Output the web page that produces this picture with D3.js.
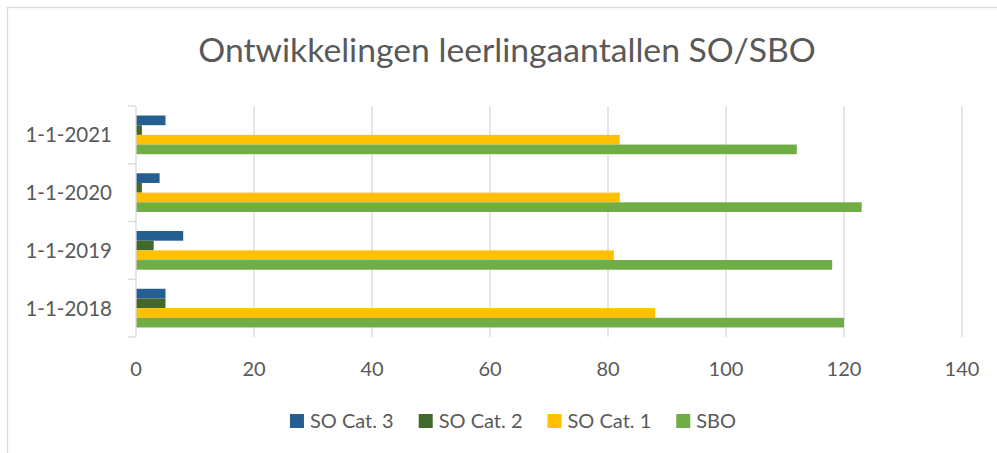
<!DOCTYPE html>
<html>
<head>
<meta charset="utf-8">
<script src="https://cdn.jsdelivr.net/npm/d3@7"></script>
<style>
    html, body { margin: 0; padding: 0; background: #fff; }
    svg { display: block; font-family: Lato, "Open Sans", sans-serif; }
</style>
</head>
<body>
<div id="chart"></div>
<script>
// categories, top to bottom as drawn
const categories = ["1-1-2021", "1-1-2020", "1-1-2019", "1-1-2018"];
const seriesNames = ["SO Cat. 3", "SO Cat. 2", "SO Cat. 1", "SBO"];
const colors = ["#255E91", "#43682B", "#FFC000", "#70AD47"];

// values per category (same order as categories)
const soCat3 = [5, 4, 8, 5];
const soCat2 = [1, 1, 3, 5];
const soCat1 = [82, 82, 81, 88];
const sbo = [112, 123, 118, 120];

const xTicks = [0, 20, 40, 60, 80, 100, 120, 140];

const width = 997, height = 453;
const textColor = "#595959";
const gridColor = "#D9D9D9";

const seriesValues = [soCat3, soCat2, soCat1, sbo];
const rows = categories.map((c, i) => ({
    cat: c,
    vals: seriesNames.map((s, j) => ({ name: s, value: seriesValues[j][i], color: colors[j] }))
}));

const svg = d3.select("#chart").append("svg")
    .attr("width", width)
    .attr("height", height);

// chart border
svg.append("rect")
    .attr("x", 7.5).attr("y", 7.5)
    .attr("width", width + 10).attr("height", height + 10)
    .attr("fill", "none")
    .attr("stroke", gridColor)
    .attr("stroke-width", 1.3);

const x = d3.scaleLinear().domain([0, 140]).range([136, 962]);
const y = d3.scaleBand().domain(categories).range([106, 337])
    .paddingInner(0.33).paddingOuter(0.165);
const yInner = d3.scaleBand().domain(seriesNames).range([0, y.bandwidth()]);

// title
svg.append("text")
    .attr("x", 507).attr("y", 62)
    .attr("text-anchor", "middle")
    .attr("font-size", 33.7)
    .attr("fill", textColor)
    .text("Ontwikkelingen leerlingaantallen SO/SBO");

// gridlines
svg.append("g").selectAll("line")
    .data(xTicks.filter(d => d > 0))
    .join("line")
    .attr("x1", d => x(d)).attr("x2", d => x(d))
    .attr("y1", 106).attr("y2", 337)
    .attr("stroke", gridColor)
    .attr("stroke-width", 1.3);

// x tick labels
svg.append("g").selectAll("text")
    .data(xTicks)
    .join("text")
    .attr("x", d => x(d))
    .attr("y", 376)
    .attr("text-anchor", "middle")
    .attr("font-size", 20)
    .attr("fill", textColor)
    .text(d => d);

// bars
const groups = svg.append("g").selectAll("g")
    .data(rows)
    .join("g")
    .attr("transform", d => `translate(0,${y(d.cat)})`);

groups.selectAll("rect")
    .data(d => d.vals)
    .join("rect")
    .attr("x", x(0))
    .attr("y", d => yInner(d.name))
    .attr("width", d => x(d.value) - x(0))
    .attr("height", yInner.bandwidth())
    .attr("fill", d => d.color);

// category axis line with tick marks between categories
const axisG = svg.append("g").attr("stroke", gridColor).attr("stroke-width", 1.3);
axisG.append("line")
    .attr("x1", x(0)).attr("x2", x(0))
    .attr("y1", 106).attr("y2", 337);
const boundaries = d3.range(categories.length + 1).map(i => 106 + i * y.step());
axisG.selectAll("line.tick")
    .data(boundaries)
    .join("line")
    .attr("class", "tick")
    .attr("x1", x(0) - 8).attr("x2", x(0))
    .attr("y1", d => d).attr("y2", d => d);

// category labels
svg.append("g").selectAll("text")
    .data(categories)
    .join("text")
    .attr("x", 112)
    .attr("y", d => y(d) + y.bandwidth() / 2)
    .attr("dy", "0.36em")
    .attr("text-anchor", "end")
    .attr("font-size", 20.5)
    .attr("fill", textColor)
    .text(d => d);

// legend
const legend = svg.append("g");
const items = legend.selectAll("g")
    .data(seriesNames)
    .join("g");
items.append("rect")
    .attr("width", 14).attr("height", 14)
    .attr("y", 414)
    .attr("fill", (d, i) => colors[i]);
items.append("text")
    .attr("x", 20)
    .attr("y", 428)
    .attr("font-size", 20)
    .attr("fill", textColor)
    .text(d => d);

let widths = [];
items.each(function () {
    widths.push(20 + this.querySelector("text").getComputedTextLength());
});
const gap = 25;
const total = d3.sum(widths) + gap * (widths.length - 1);
let cx = 513 - total / 2;
items.attr("transform", (d, i) => {
    const t = `translate(${cx},0)`;
    cx += widths[i] + gap;
    return t;
});
</script>
</body>
</html>
